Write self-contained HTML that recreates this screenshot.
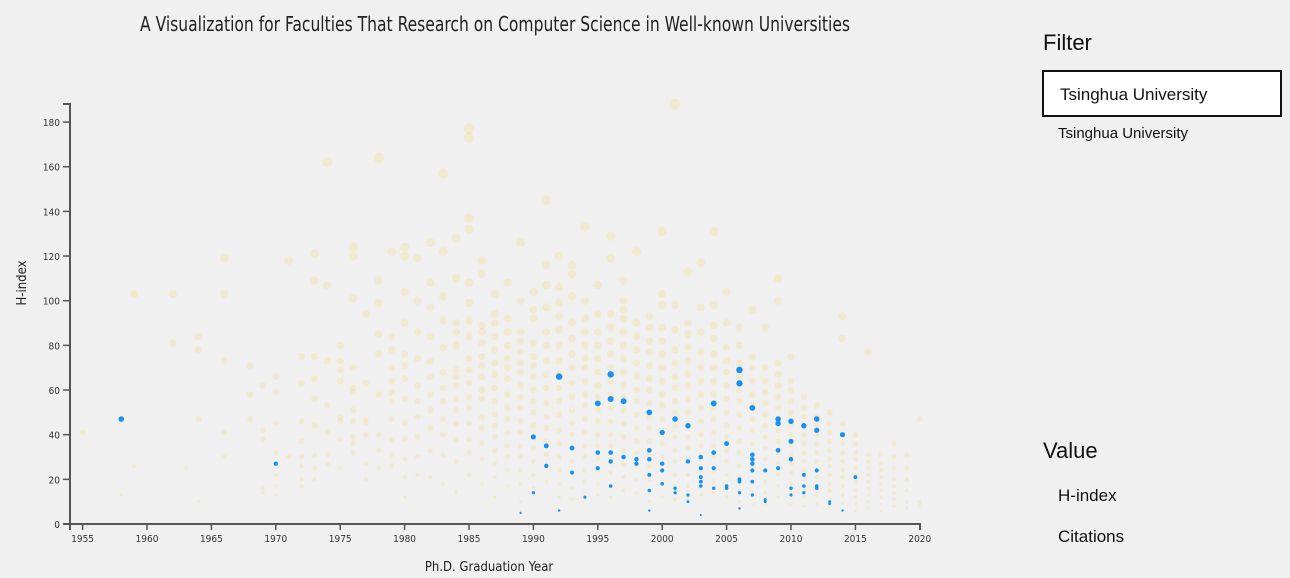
<!DOCTYPE html>
<html><head><meta charset="utf-8">
<style>
html,body{margin:0;padding:0;background:#f0f0f0;width:1290px;height:578px;overflow:hidden}
#chart{position:absolute;left:0;top:0}
.cond{font-family:"Liberation Sans Narrow","DejaVu Sans Condensed","Liberation Sans",sans-serif}
.panel{position:absolute;font-family:"Liberation Sans","DejaVu Sans",sans-serif;color:#111}
</style></head><body>
<svg id="chart" width="1000" height="578"></svg>

<div class="panel" style="left:1043px;top:30px;font-size:22px">Filter</div>
<div class="panel" style="left:1042px;top:70px;width:236px;height:43px;border:2px solid #111;background:#fff;box-sizing:content-box"><span style="position:absolute;left:16px;top:13px;font-size:17px">Tsinghua University</span></div>
<div class="panel" style="left:1058px;top:125px;font-size:15px">Tsinghua University</div>
<div class="panel" style="left:1043px;top:438px;font-size:22px">Value</div>
<div class="panel" style="left:1058px;top:486px;font-size:17px">H-index</div>
<div class="panel" style="left:1058px;top:527px;font-size:17px">Citations</div>

<script>
const xTicks=[1955,1960,1965,1970,1975,1980,1985,1990,1995,2000,2005,2010,2015,2020];
const yTicks=[0,20,40,60,80,100,120,140,160,180];
const yellowYears=[1955,1958,1959,1962,1963,1964,1966,1968,1969,1970,1971,1972,1973,1974,1975,1976,1977,1978,1979,1980,1981,1982,1983,1984,1985,1986,1987,1988,1989,1990,1991,1992,1993,1994,1995,1996,1997,1998,1999,2000,2001,2002,2003,2004,2005,2006,2007,2008,2009,2010,2011,2012,2013,2014,2015,2016,2017,2018,2019,2020];
const yellowH=[[41],[13],[103,26],[103,81],[25],[84,78,47,10],[119,103,73,41,30],[71,58,47],[62,42,38,16,14],[66,59,45,32,22,17,13],[118,30],[75,63,46,37,30,26,20,17],[121,109,75,65,56,44,31,25,20],[162,107,73,53,41,31,27],[80,73,69,64,48,46,38,25],[124,120,101,70,61,59,51,46,39,36,32],[94,63,47,45,40,27,20],[164,109,99,85,76,58,40,33,25],[122,84,78,70,64,59,55,47,38,31,26],[124,120,104,90,76,71,65,56,45,38,29,21,12],[119,100,86,74,62,55,48,39,30,22],[126,108,97,84,73,66,58,51,43,33,21],[157,122,102,91,79,68,61,55,47,40,31,18],[128,110,90,86,80,69,66,62,56,51,45,38,28,14],[177,173,137,132,108,99,91,84,74,69,63,57,52,45,38,32,22],[118,112,89,86,81,75,71,66,60,56,48,43,36,29,18],[103,94,90,84,78,72,67,61,55,49,44,39,33,27,21,12],[108,92,86,80,74,70,65,58,52,47,41,35,30,24,17],[126,100,86,82,77,72,68,62,57,52,46,41,35,30,24,18,10],[104,96,92,81,75,71,66,60,55,50,44,39,34,28,22,16],[145,116,107,97,86,80,73,67,61,54,48,43,37,31,26,19],[120,106,99,93,87,80,73,67,61,55,49,42,36,30,24,18,12],[116,112,102,90,83,76,70,63,57,51,45,40,34,28,22,16,11],[133,100,92,86,80,74,70,64,58,53,47,41,35,30,24,19,14],[107,94,86,80,74,68,62,57,51,46,40,35,29,24,18,13],[129,119,94,88,82,76,70,64,58,52,46,40,35,29,23,17,12],[109,100,96,92,86,80,74,68,62,57,51,45,39,33,27,21,15],[122,90,84,78,72,66,60,55,49,43,37,32,26,20,14],[93,88,82,77,71,65,60,54,48,43,37,31,26,20,15,10],[131,103,98,88,82,76,70,64,58,53,47,41,36,30,24,18,12],[188,98,87,78,72,66,61,55,50,44,39,33,28,22,17,11],[113,90,85,79,73,67,62,56,50,45,39,34,28,22,17,12],[117,97,86,77,70,64,58,52,46,40,35,29,24,18,13],[131,98,89,83,76,70,64,58,52,47,41,35,30,24,19,14],[104,90,79,73,68,62,56,50,44,39,33,28,22,17,12],[88,80,72,66,60,55,49,43,37,32,26,21,15,10],[96,75,70,64,58,53,47,42,36,30,25,19,14,9],[88,70,64,59,54,49,44,39,34,29,24,19,14,9],[110,100,72,67,62,57,52,47,42,37,32,27,22,17,12],[75,64,60,55,50,45,40,36,31,27,23,18,14,9],[57,52,48,44,40,36,32,28,24,20,16,12,8],[53,48,44,40,36,32,28,24,21,17,13,9],[50,45,41,37,33,29,26,22,18,15,11,7],[93,83,45,40,36,32,28,24,21,17,13,9,6],[40,36,32,29,25,22,19,15,12,9,6],[77,31,28,25,22,19,16,13,10,7],[31,27,24,21,18,15,12,9,6],[36,30,25,20,17,14,11,8],[31,25,20,15,10,7],[47,10,8]];
const blueYears=[1958,1970,1989,1990,1990,1991,1991,1992,1992,1993,1993,1994,1995,1995,1995,1996,1996,1996,1996,1996,1997,1997,1998,1998,1999,1999,1999,1999,1999,1999,2000,2000,2000,2000,2001,2001,2001,2002,2002,2002,2002,2003,2003,2003,2003,2003,2003,2004,2004,2004,2004,2005,2005,2005,2006,2006,2006,2006,2006,2006,2007,2007,2007,2007,2007,2007,2007,2008,2008,2008,2009,2009,2009,2009,2010,2010,2010,2010,2010,2011,2011,2011,2011,2012,2012,2012,2012,2012,2013,2013,2014,2014,2015];
const blueH=[47,27,5,39,14,35,26,66,6,34,23,12,54,32,25,67,56,32,28,17,55,30,29,27,50,33,29,22,15,6,41,27,24,18,47,16,14,44,28,13,10,30,25,21,19,17,4,54,32,25,16,36,17,16,69,63,20,19,14,7,52,31,29,27,24,19,13,24,11,10,47,45,33,25,46,37,29,16,13,44,22,17,14,47,42,24,17,16,10,9,40,6,21];

const NS='http://www.w3.org/2000/svg';
const svg=document.getElementById('chart');
function xs(y){return 82.6+(y-1955)*12.88;}
function ys(h){return 524-h*2.233;}
function mk(tag,attrs,parent){const e=document.createElementNS(NS,tag);for(const k in attrs)e.setAttribute(k,attrs[k]);(parent||svg).appendChild(e);return e;}

const title=mk('text',{x:495,y:31,'text-anchor':'middle','font-size':20,fill:'#222',class:'cond',textLength:710,lengthAdjust:'spacingAndGlyphs'});
title.textContent='A Visualization for Faculties That Research on Computer Science in Well-known Universities';



const yellowG=mk('g',{});


yellowYears.forEach((yr,i)=>{yellowH[i].forEach(h=>{
  const c=mk('circle',{cx:xs(yr),cy:ys(h),r:0.4+Math.sqrt(h)*0.37,fill:'#f5cc50','fill-opacity':0.2},yellowG);
  
  
});});
const blueG=mk('g',{});


blueYears.forEach((yr,i)=>{
  const h=blueH[i];
  const c=mk('circle',{cx:xs(yr),cy:ys(h),r:0.3+Math.sqrt(h)*0.36,fill:'#0a8cf0','fill-opacity':0.95},blueG);
  
  
});

const ax=mk('g',{});


mk('path',{d:'M63,104H70V524H63',stroke:'#555','stroke-width':2,fill:'none'},ax);
yTicks.forEach(t=>{
  mk('line',{x1:63,x2:70,y1:ys(t),y2:ys(t),stroke:'#555','stroke-width':1.5},ax);
  const l=mk('text',{x:60,y:ys(t)+4,'text-anchor':'end','font-size':10,fill:'#333',class:'cond'},ax);
  l.textContent=t;
  
  
});
const bx=mk('g',{});


mk('path',{d:'M70,530V524H920V530',stroke:'#555','stroke-width':2,fill:'none'},bx);
xTicks.forEach(t=>{
  mk('line',{x1:xs(t),x2:xs(t),y1:524,y2:530,stroke:'#555','stroke-width':1.5},bx);
  const l=mk('text',{x:xs(t),y:542,'text-anchor':'middle','font-size':10,fill:'#333',class:'cond'},bx);
  l.textContent=t;
  
  
});
const xt=mk('text',{x:489,y:571,'text-anchor':'middle','font-size':13,fill:'#222',class:'cond'});
xt.textContent='Ph.D. Graduation Year';


const yt=mk('text',{x:0,y:0,'text-anchor':'middle','font-size':13,fill:'#222',class:'cond',transform:'translate(26,283) rotate(-90)'});
yt.textContent='H-index';


</script>
</body></html>
